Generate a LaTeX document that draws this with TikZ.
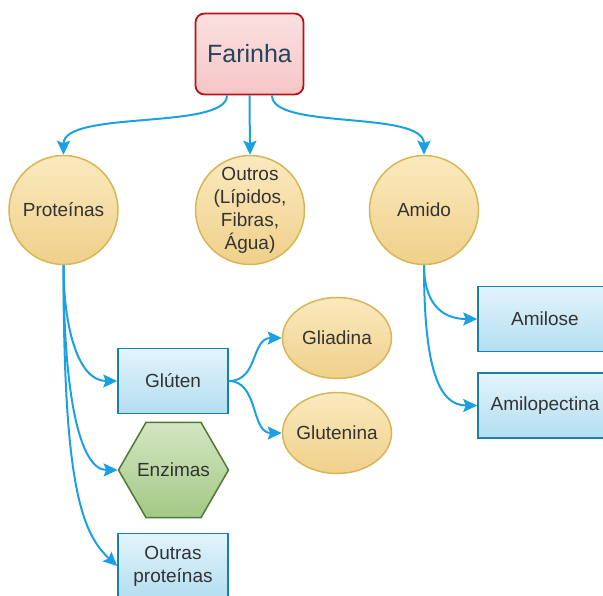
\documentclass[tikz,border=0pt]{standalone}
\usepackage{fontspec}
\setmainfont{Liberation Sans}
\usetikzlibrary{arrows.meta,shapes.geometric}

\definecolor{flowblue}{HTML}{1BA1E2}
\definecolor{inkgray}{HTML}{333333}
\definecolor{inkslate}{HTML}{23445D}
\definecolor{rootedge}{HTML}{B5121B}
\definecolor{roottop}{HTML}{FBE0E0}
\definecolor{rootbot}{HTML}{F6C6C6}
\definecolor{goldedge}{HTML}{D6B656}
\definecolor{goldtop}{HTML}{FBE9BE}
\definecolor{goldbot}{HTML}{EFD08A}
\definecolor{boxedge}{HTML}{1A7FAA}
\definecolor{boxtop}{HTML}{E3F4FB}
\definecolor{boxbot}{HTML}{B3DEF0}
\definecolor{hexedge}{HTML}{4E7A36}
\definecolor{hextop}{HTML}{D3E6C2}
\definecolor{hexbot}{HTML}{A3C886}

\begin{document}
\begin{tikzpicture}[x=1pt,y=-1pt,
    label txt/.style={font=\fontsize{19}{23}\selectfont, text=inkgray, align=center},
    root/.style={rectangle, rounded corners=9pt, draw=rootedge, line width=1.8pt,
        top color=roottop, bottom color=rootbot, minimum width=108pt, minimum height=81pt,
        font=\fontsize{25}{30}\selectfont, text=inkslate},
    bubble/.style={circle, draw=goldedge, line width=1.5pt, top color=goldtop,
        bottom color=goldbot, minimum size=109pt, inner sep=-3pt, label txt},
    oval/.style={ellipse, draw=goldedge, line width=1.5pt, top color=goldtop,
        bottom color=goldbot, minimum width=109pt, minimum height=81pt, inner ysep=0pt,
        inner xsep=-3pt, label txt},
    leaf/.style={rectangle, draw=boxedge, line width=1.5pt, top color=boxtop,
        bottom color=boxbot, minimum height=65pt, inner sep=0pt, label txt},
    hexa/.style={regular polygon, regular polygon sides=6, draw=hexedge, line width=1.5pt,
        top color=hextop, bottom color=hexbot, minimum size=110pt, inner sep=0pt, label txt},
    link/.style={draw=flowblue, line width=2pt, -{Stealth[length=14pt,width=13pt,inset=2.5pt]}}]

    \clip (0,0) rectangle (603,595);

    % Nodes
    \node[root] (farinha) at (249.5,54) {Farinha};
    \node[bubble] (prot) at (63.5,210) {Proteínas};
    \node[bubble] (outros) at (250,210) {Outros\\(Lípidos,\\Fibras,\\Água)};
    \node[bubble] (amido) at (424,210) {Amido};
    \node[leaf, minimum width=110pt] (gluten) at (173,381) {Glúten};
    \node[hexa] (enzimas) at (173.5,470) {\makebox[0pt]{Enzimas}};
    \node[leaf, minimum width=110pt] (outras) at (173,566) {Outras\\proteínas};
    \node[oval] (gliadina) at (337,338) {Gliadina};
    \node[oval] (glutenina) at (337,433) {Glutenina};
    \node[leaf, minimum width=134pt] (amilose) at (545,319) {Amilose};
    \node[leaf, minimum width=134pt] (amilopec) at (545,405.5) {Amilopectina};

    % Connectors from the root
    \draw[link] ([xshift=-22.5pt]farinha.south) .. controls +(0,35) and +(0,-45) .. (prot.north);
    \draw[link] (farinha.south) -- (outros.north);
    \draw[link] ([xshift=22.5pt]farinha.south) .. controls +(0,35) and +(0,-45) .. (amido.north);

    % Proteins branch
    \draw[link] (prot.south) .. controls +(0,60) and +(-40,0) .. (gluten.west);
    \draw[link] (prot.south) .. controls +(0,130) and +(-38,0) .. (enzimas.corner 3);
    \draw[link] (prot.south) .. controls +(0,215) and +(-37,-34) .. (outras.west);
    \draw[link] (gluten.east) .. controls +(30,0) and +(-31,0) .. (gliadina.west);
    \draw[link] (gluten.east) .. controls +(30,0) and +(-31,0) .. (glutenina.west);

    % Starch branch
    \draw[link] (amido.south) .. controls +(0,35) and +(-38,0) .. (amilose.west);
    \draw[link] (amido.south) .. controls +(0,105) and +(-38,0) .. (amilopec.west);
\end{tikzpicture}
\end{document}
